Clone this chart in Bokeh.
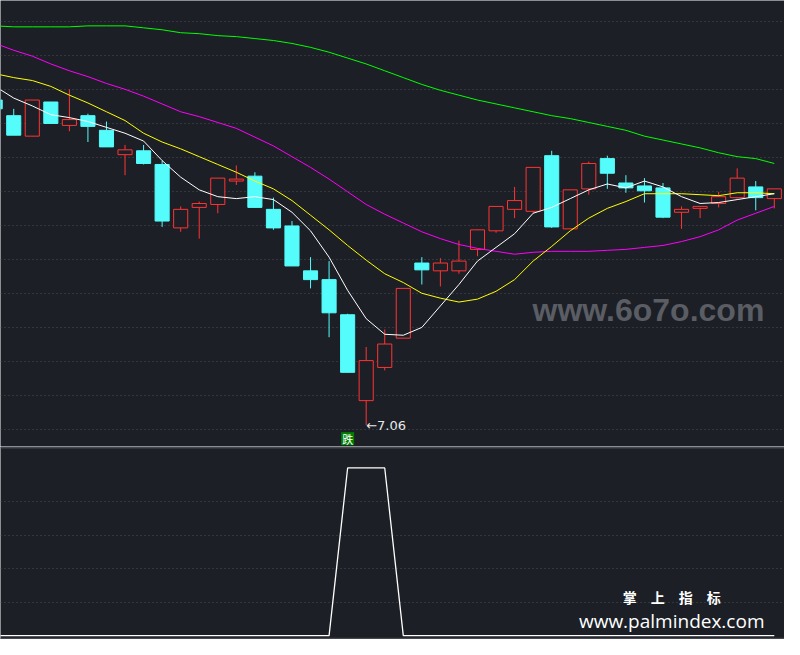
from bokeh.plotting import figure
from bokeh.models import Range1d, FixedTicker, Grid, Span
from bokeh.layouts import column
from bokeh.embed import file_html
from bokeh.resources import INLINE
from bokeh.core.properties import value

# ---------------- data ----------------
opens = [10.39, 10.23, 10.02, 10.37, 10.13, 10.23, 10.08, 9.83, 9.87, 9.73,
         9.08, 9.29, 9.32, 9.56, 9.61, 9.27, 9.10, 8.64, 8.55, 8.19,
         7.31, 7.65, 7.95, 8.72, 8.64, 8.64, 8.86, 9.05, 9.27, 9.25,
         9.82, 9.07, 9.48, 9.79, 9.54, 9.51, 9.49, 9.24, 9.28, 9.33,
         9.39, 9.50, 9.38]
highs = [10.42, 10.30, 10.39, 10.37, 10.50, 10.25, 10.17, 9.93, 9.93, 9.77,
         9.30, 9.35, 9.59, 9.72, 9.65, 9.39, 9.15, 8.78, 8.74, 8.20,
         7.86, 8.04, 8.46, 8.78, 8.77, 8.95, 9.06, 9.30, 9.50, 9.70,
         9.87, 9.47, 9.76, 9.82, 9.62, 9.59, 9.54, 9.30, 9.30, 9.45,
         9.69, 9.56, 9.48]
lows = [10.28, 10.03, 10.02, 10.15, 10.07, 9.96, 9.91, 9.62, 9.73, 9.09,
        9.04, 8.97, 9.23, 9.52, 9.29, 9.06, 8.69, 8.46, 7.96, 7.60,
        7.06, 7.62, 7.95, 8.50, 8.48, 8.61, 8.79, 9.03, 9.18, 9.23,
        9.08, 9.07, 9.42, 9.48, 9.44, 9.34, 9.18, 9.07, 9.18, 9.29,
        9.38, 9.26, 9.28]
closes = [10.30, 10.03, 10.39, 10.15, 10.19, 10.12, 9.91, 9.88, 9.74, 9.15,
          9.27, 9.33, 9.59, 9.58, 9.29, 9.08, 8.69, 8.55, 8.21, 7.60,
          7.72, 7.89, 8.46, 8.65, 8.72, 8.74, 9.06, 9.30, 9.36, 9.70,
          9.09, 9.47, 9.74, 9.64, 9.49, 9.46, 9.19, 9.27, 9.30, 9.40,
          9.59, 9.39, 9.48]

ma_white = [10.53, 10.41, 10.33, 10.24, 10.21, 10.17, 10.11, 10.05, 9.97, 9.77,
            9.60, 9.47, 9.40, 9.38, 9.40, 9.37, 9.24, 9.05, 8.78, 8.44,
            8.15, 7.99, 7.98, 8.06, 8.28, 8.50, 8.74, 8.88, 9.02, 9.23,
            9.29, 9.38, 9.47, 9.53, 9.49, 9.56, 9.50, 9.40, 9.33, 9.34,
            9.37, 9.40, 9.43]
ma_yellow = [10.66, 10.62, 10.59, 10.53, 10.44, 10.36, 10.27, 10.18, 10.05, 9.96,
             9.89, 9.81, 9.73, 9.65, 9.56, 9.48, 9.36, 9.21, 9.06, 8.90,
             8.75, 8.61, 8.52, 8.41, 8.36, 8.32, 8.35, 8.43, 8.55, 8.74,
             8.89, 9.05, 9.18, 9.28, 9.35, 9.43, 9.43, 9.43, 9.42, 9.41,
             9.44, 9.44, 9.43]
ma_magenta = [10.97, 10.90, 10.84, 10.76, 10.69, 10.63, 10.56, 10.50, 10.43, 10.35,
              10.27, 10.22, 10.16, 10.10, 10.01, 9.92, 9.81, 9.70, 9.58, 9.45,
              9.32, 9.22, 9.13, 9.04, 8.97, 8.91, 8.87, 8.84, 8.81, 8.83,
              8.84, 8.84, 8.84, 8.85, 8.86, 8.88, 8.90, 8.94, 8.99, 9.06,
              9.16, 9.23, 9.30]
ma_green = [11.15, 11.14, 11.14, 11.14, 11.14, 11.15, 11.15, 11.15, 11.13, 11.11,
            11.08, 11.07, 11.05, 11.04, 11.02, 11.00, 10.97, 10.93, 10.88, 10.82,
            10.76, 10.69, 10.62, 10.55, 10.49, 10.44, 10.39, 10.35, 10.31, 10.27,
            10.23, 10.20, 10.16, 10.12, 10.08, 10.02, 9.98, 9.94, 9.90, 9.85,
            9.81, 9.79, 9.74]

signal = [0, 0, 0, 0, 0, 0, 0, 0, 0, 0,
          0, 0, 0, 0, 0, 0, 0, 0, 0, 1,
          1, 1, 0, 0, 0, 0, 0, 0, 0, 0,
          0, 0, 0, 0, 0, 0, 0, 0, 0, 0,
          0, 0, 0]

signal_label = "跌"
watermark_top = "www.6o7o.com"
watermark_cn = "掌\u3000上\u3000指\u3000标"
watermark_url = "www.palmindex.com"

# ---------------- styling ----------------
BG = "#1c1f26"
UP = "#ff3434"
DOWN = "#54fcfc"
GRID = "#4a4e57"

idx = list(range(len(opens)))
is_up = [c >= o for o, c in zip(opens, closes)]
colors = [UP if u else DOWN for u in is_up]
fills = [BG if u else DOWN for u in is_up]
tops = [max(o, c) for o, c in zip(opens, closes)]
bots = [min(o, c) for o, c in zip(opens, closes)]

W = 784
H1 = 446
H2 = 193

xr = Range1d(0.287, 42.55)
p = figure(width=W, height=H1, x_range=xr, y_range=Range1d(6.84, 11.41),
           x_axis_type=None, y_axis_type=None, output_backend="svg",
           toolbar_location=None, background_fill_color=BG, border_fill_color=BG,
           min_border=0, outline_line_color=None)
grid_ticks = [11.195 - 0.348 * m for m in range(13)]
p.add_layout(Grid(dimension=1, ticker=FixedTicker(ticks=grid_ticks),
                  grid_line_color=GRID, grid_line_dash="1 3", grid_line_width=1))

p.segment(x0=idx, y0=highs, x1=idx, y1=lows, line_color=colors, line_width=1)
p.vbar(x=idx, width=0.76, top=tops, bottom=bots, fill_color=fills,
       line_color=colors, line_width=1)

p.line(idx, ma_green, line_color="#00ff00", line_width=1)
p.line(idx, ma_magenta, line_color="#ff00ff", line_width=1)
p.line(idx, ma_yellow, line_color="#ffff00", line_width=1)
p.line(idx, ma_white, line_color="#ffffff", line_width=1)

# lowest low annotation
i_low = lows.index(min(lows))
p.text(x=[i_low], y=[lows[i_low]], text=["\u2190%.2f" % lows[i_low]],
       text_align="left", text_baseline="middle", text_color="#e8e8e8",
       text_font_size="13px", text_font=value("DejaVu Sans"))

# signal marker
i_sig = signal.index(1)
box_y = p.y_range.start + 0.08
p.scatter(x=[i_sig], y=[box_y], marker="square", size=13,
          fill_color="#008000", line_color=None)
p.text(x=[i_sig], y=[box_y], text=[signal_label], text_align="center",
       text_baseline="middle", text_color="#ffffff", text_font_size="11px",
       text_font=value("Noto Sans CJK SC"))

# watermark
p.text(x=[28.97], y=[8.24], text=[watermark_top], text_align="left",
       text_baseline="alphabetic", text_color="#5a5d63", text_font_size="32px",
       text_font=value("Liberation Sans"), text_font_style="bold")

# ---------------- lower panel ----------------
p2 = figure(width=W, height=H2, x_range=xr, y_range=Range1d(-0.023, 1.128),
            x_axis_type=None, y_axis_type=None, output_backend="svg",
            toolbar_location=None, background_fill_color=BG, border_fill_color=BG,
            min_border=0, outline_line_color=None)
p2.add_layout(Grid(dimension=1, ticker=FixedTicker(ticks=[0.2, 0.4, 0.6, 0.8]),
                   grid_line_color=GRID, grid_line_dash="1 3", grid_line_width=1))
p2.add_layout(Span(location=1.12, dimension="width", line_color="#464951", line_width=1.5))
p2.add_layout(Span(location=-0.017, dimension="width", line_color="#464951", line_width=1.5))
p2.line(idx, signal, line_color="#ffffff", line_width=1.3)

p2.text(x=[36.47], y=[0.229], text=[watermark_cn], text_align="center",
        text_baseline="middle", text_color="#ffffff", text_font_size="14px",
        text_font=value("Noto Sans CJK SC"), text_font_style="bold")
p2.text(x=[36.47], y=[0.087], text=[watermark_url], text_align="center",
        text_baseline="alphabetic", text_color="#ffffff", text_font_size="19px",
        text_font=value("Open Sans"))

layout = column(p, p2, spacing=0)
open("out.html", "w").write(file_html(layout, INLINE))
